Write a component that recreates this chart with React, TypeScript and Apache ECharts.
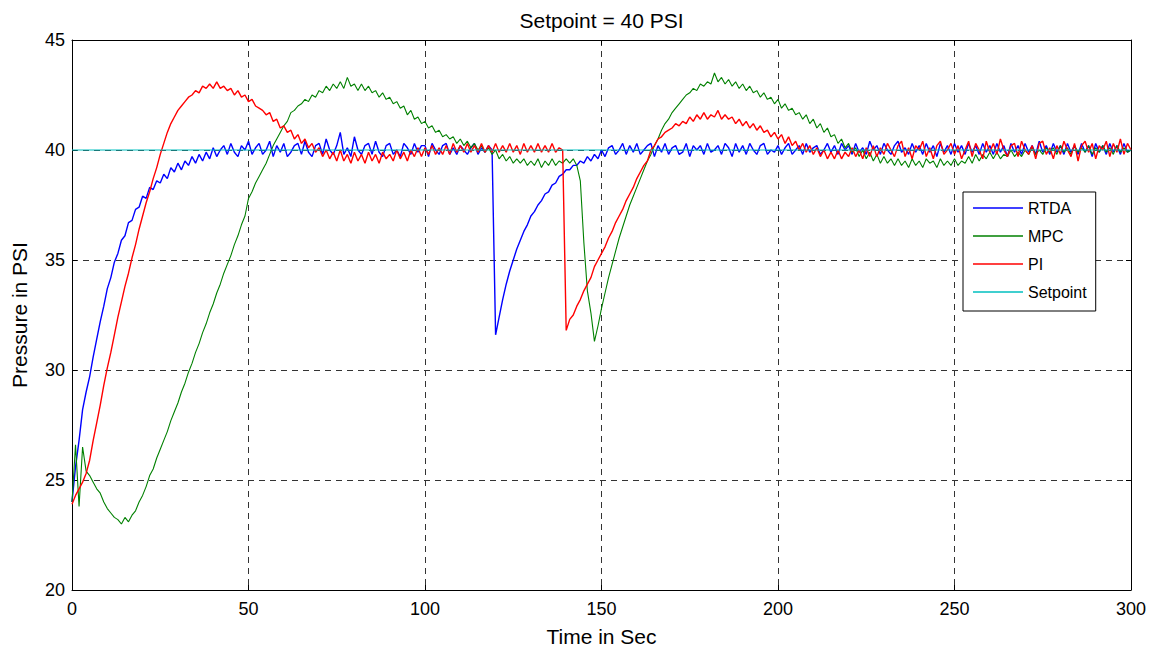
import React, { useEffect, useRef } from "react";
import * as echarts from "echarts";

const TITLE = "Setpoint = 40 PSI";
const X_NAME = "Time in Sec";
const Y_NAME = "Pressure in PSI";
const SERIES_NAMES = ["RTDA", "MPC", "PI", "Setpoint"];
const COLORS = ["#0000FF", "#008000", "#FF0000", "#00BFBF"];
const X_TICKS = [0, 50, 100, 150, 200, 250, 300];
const Y_TICKS = [20, 25, 30, 35, 40, 45];
const TIME_STEP = 1; // seconds between samples

const RTDA = [
  24.0, 25.6, 26.8, 28.2, 29.0, 29.7, 30.6, 31.4, 32.2, 32.9,
  33.7, 34.2, 34.9, 35.3, 35.9, 36.1, 36.7, 36.8, 37.3, 37.4,
  37.9, 37.8, 38.3, 38.2, 38.6, 38.5, 38.9, 38.7, 39.2, 39.0,
  39.4, 39.1, 39.5, 39.3, 39.7, 39.4, 39.8, 39.5, 39.9, 39.6,
  40.1, 39.7, 40.0, 40.2, 39.8, 40.3, 39.9, 39.7, 40.2, 40.0,
  40.4, 39.8, 40.1, 40.3, 39.8, 40.0, 40.4, 39.7, 40.2, 39.9,
  40.3, 39.7, 39.9, 40.2, 40.3, 39.8, 40.4, 39.9, 39.7, 40.2,
  40.3, 39.8, 40.5, 40.0, 39.8, 40.2, 40.8, 39.8, 40.1, 39.7,
  40.6, 40.0, 39.8, 40.2, 40.3, 39.8, 40.4, 39.9, 39.7, 40.2,
  40.3, 39.8, 40.0, 39.7, 40.3, 40.1, 39.8, 40.3, 39.9, 40.2,
  40.2, 39.7, 40.3, 40.0, 39.8, 40.2, 40.3, 39.8, 40.1, 39.8,
  40.2, 40.0, 39.8, 40.1, 40.3, 39.8, 40.1, 39.9, 40.2, 40.0,
  31.6, 32.4, 33.2, 33.9, 34.5, 35.0, 35.5, 35.9, 36.3, 36.6,
  37.0, 37.2, 37.5, 37.7, 38.0, 38.1, 38.4, 38.5, 38.8, 38.9,
  39.1, 39.1, 39.3, 39.3, 39.5, 39.4, 39.7, 39.5, 39.8, 39.6,
  40.0, 39.7, 40.1, 40.2, 39.8, 40.0, 40.3, 39.8, 40.2, 39.9,
  40.3, 39.8, 40.0, 40.2, 40.3, 39.7, 40.2, 39.9, 40.3, 39.8,
  40.1, 40.2, 39.8, 39.9, 40.3, 39.7, 40.2, 40.0, 40.2, 39.8,
  40.3, 39.9, 40.0, 40.2, 39.8, 40.3, 40.1, 39.7, 40.3, 39.9,
  40.2, 39.8, 40.3, 40.0, 39.8, 40.2, 40.3, 39.8, 40.0, 39.9,
  40.2, 39.8, 40.1, 40.3, 39.8, 40.0, 40.2, 39.8, 40.3, 39.9,
  40.1, 40.2, 39.8, 40.0, 40.3, 39.9, 40.2, 39.8, 40.3, 40.0,
  40.2, 39.8, 40.3, 39.9, 40.1, 39.8, 40.4, 40.0, 40.2, 39.8,
  40.3, 40.0, 39.8, 40.2, 40.4, 39.9, 40.1, 39.8, 40.3, 39.9,
  40.2, 39.8, 40.3, 39.9, 40.2, 39.7, 40.3, 39.9, 40.2, 39.8,
  40.3, 39.9, 40.2, 39.8, 40.3, 39.9, 40.2, 39.8, 40.3, 39.9,
  40.2, 39.8, 40.3, 39.9, 40.2, 39.7, 40.3, 39.9, 40.2, 39.8,
  40.3, 39.9, 40.2, 39.8, 40.4, 39.9, 40.2, 39.8, 40.3, 39.9,
  40.2, 39.8, 40.3, 39.9, 40.2, 39.8, 40.3, 39.9, 40.2, 39.7,
  40.3, 39.9, 40.2, 39.8, 40.3, 39.9, 40.2, 39.8, 40.3, 39.9,
  40.0,
];

const MPC = [
  24.0, 26.6, 23.8, 26.5, 25.4, 25.2, 24.9, 24.6, 24.4, 24.0,
  23.7, 23.5, 23.3, 23.2, 23.0, 23.3, 23.1, 23.4, 23.6, 24.0,
  24.3, 24.7, 25.2, 25.5, 26.0, 26.4, 26.8, 27.2, 27.7, 28.1,
  28.5, 29.0, 29.4, 29.9, 30.3, 30.8, 31.2, 31.7, 32.1, 32.6,
  33.0, 33.5, 33.9, 34.4, 34.8, 35.2, 35.7, 36.1, 36.6, 37.0,
  37.8, 38.1, 38.5, 38.8, 39.1, 39.4, 39.8, 40.2, 40.5, 40.8,
  41.1, 41.3, 41.7, 41.8, 42.0, 42.1, 42.3, 42.2, 42.5, 42.4,
  42.7, 42.6, 42.9, 42.7, 43.0, 42.8, 43.1, 42.8, 43.3, 42.9,
  43.0, 42.7, 43.0, 42.7, 42.9, 42.6, 42.7, 42.4, 42.6, 42.3,
  42.4, 42.1, 42.2, 41.9, 42.0, 41.6, 41.8, 41.4, 41.5, 41.2,
  41.3, 41.0, 41.1, 40.8, 40.9, 40.6, 40.7, 40.5, 40.6, 40.3,
  40.5, 40.2, 40.4, 40.1, 40.3, 40.0, 40.2, 39.9, 40.1, 39.8,
  40.0, 39.6, 39.8, 39.5, 39.7, 39.4, 39.6, 39.4, 39.6, 39.3,
  39.5, 39.3, 39.6, 39.2, 39.5, 39.3, 39.6, 39.3, 39.5, 39.4,
  39.6, 39.4, 39.6, 39.3, 38.6, 35.8, 33.6, 32.6, 31.3, 32.0,
  32.8, 33.5, 34.2, 34.8, 35.4, 36.0, 36.5, 37.0, 37.5, 37.9,
  38.3, 38.7, 39.1, 39.5, 39.8, 40.2, 40.5, 40.9, 41.2, 41.4,
  41.7, 41.9, 42.1, 42.3, 42.5, 42.6, 42.8, 42.7, 43.0, 42.9,
  43.1, 43.0, 43.5, 43.1, 43.3, 43.0, 43.2, 42.9, 43.1, 42.8,
  43.0, 42.7, 42.9, 42.6, 42.7, 42.4, 42.6, 42.3, 42.4, 42.1,
  42.3, 41.9, 42.1, 41.8, 41.9, 41.6, 41.7, 41.4, 41.6, 41.2,
  41.4, 41.0, 41.2, 40.8, 41.0, 40.6, 40.7, 40.3, 40.5, 40.1,
  40.3, 39.9, 40.1, 39.7, 40.0, 39.6, 39.9, 39.5, 39.8, 39.4,
  39.7, 39.4, 39.6, 39.3, 39.6, 39.3, 39.5, 39.2, 39.6, 39.3,
  39.5, 39.2, 39.6, 39.4, 39.5, 39.2, 39.6, 39.3, 39.5, 39.3,
  39.6, 39.3, 39.5, 39.4, 39.7, 39.4, 39.8, 39.5, 39.8, 39.6,
  39.9, 39.6, 39.9, 39.6, 39.8, 39.7, 40.0, 39.7, 39.9, 39.7,
  40.0, 39.8, 40.1, 39.8, 40.0, 39.8, 40.1, 39.9, 40.1, 39.8,
  40.2, 39.9, 40.1, 39.8, 40.2, 39.9, 40.1, 39.9, 40.2, 39.8,
  40.1, 39.9, 40.2, 39.9, 40.1, 39.8, 40.2, 39.9, 40.1, 39.9,
  40.0,
];

const PI = [
  23.9, 24.3, 24.6, 24.9, 25.3, 25.9, 26.8, 27.6, 28.4, 29.3,
  30.1, 30.8, 31.6, 32.4, 33.1, 33.8, 34.4, 35.1, 35.7, 36.4,
  37.0, 37.6, 38.1, 38.7, 39.2, 39.8, 40.3, 40.8, 41.2, 41.5,
  41.8, 42.0, 42.2, 42.4, 42.5, 42.7, 42.6, 42.9, 42.8, 43.0,
  42.8, 43.1, 42.8, 42.9, 42.7, 42.8, 42.5, 42.7, 42.4, 42.5,
  42.2, 42.3, 42.0, 41.9, 41.8, 41.6, 41.7, 41.3, 41.4, 41.0,
  41.1, 40.8, 40.9, 40.5, 40.7, 40.3, 40.5, 40.1, 40.3, 39.9,
  40.1, 39.7, 40.0, 39.6, 39.9, 39.5, 40.0, 39.5, 39.8, 39.4,
  39.9, 39.5, 39.8, 39.4, 39.9, 39.5, 39.8, 39.4, 39.9, 39.6,
  39.8, 39.5, 40.0, 39.6, 39.9, 39.5, 40.0, 39.7, 40.1, 39.7,
  40.1, 39.8, 40.2, 39.8, 40.1, 39.8, 40.2, 39.8, 40.3, 39.9,
  40.2, 39.9, 40.3, 39.9, 40.2, 39.9, 40.3, 39.9, 40.2, 39.9,
  40.3, 39.9, 40.2, 39.9, 40.3, 39.9, 40.2, 39.8, 40.3, 39.9,
  40.2, 39.9, 40.3, 39.9, 40.2, 39.9, 40.3, 39.9, 40.1, 40.0,
  31.8, 32.3, 32.5, 32.9, 33.2, 33.6, 33.9, 34.2, 34.7, 35.0,
  35.3, 35.6, 36.0, 36.3, 36.7, 37.0, 37.3, 37.7, 38.0, 38.3,
  38.7, 39.0, 39.3, 39.5, 40.0, 40.2, 40.5, 40.6, 40.8, 40.9,
  41.0, 41.2, 41.1, 41.3, 41.2, 41.5, 41.3, 41.6, 41.4, 41.7,
  41.4, 41.6, 41.5, 41.8, 41.4, 41.6, 41.4, 41.5, 41.2, 41.4,
  41.1, 41.3, 41.0, 41.2, 40.9, 41.1, 40.8, 40.9, 40.6, 40.8,
  40.5, 40.7, 40.3, 40.6, 40.2, 40.4, 40.0, 40.3, 39.9, 40.2,
  39.8, 40.1, 39.7, 40.0, 39.6, 39.9, 39.6, 40.0, 39.6, 39.9,
  39.7, 40.1, 39.7, 40.0, 39.6, 40.1, 39.7, 40.2, 39.7, 40.1,
  39.8, 40.3, 40.0, 39.7, 40.2, 40.4, 39.7, 40.1, 39.6, 40.2,
  40.0, 40.4, 39.7, 40.1, 39.6, 40.2, 40.4, 39.8, 40.0, 40.3,
  39.8, 40.2, 39.6, 40.0, 40.4, 39.7, 40.3, 40.0, 39.6, 40.4,
  39.9, 40.3, 39.8, 40.5, 40.0, 39.7, 40.2, 40.3, 39.7, 40.4,
  40.0, 39.8, 40.2, 39.6, 40.3, 40.4, 39.8, 40.1, 39.6, 40.2,
  39.8, 40.4, 40.0, 39.7, 40.3, 39.5, 40.2, 40.4, 39.9, 40.3,
  39.6, 40.2, 40.0, 40.4, 39.7, 40.3, 39.9, 40.5, 39.8, 40.3,
  40.0,
];

const SETPOINT_T = [0, 300];
const SETPOINT_V = [40, 40];

const FONT = "'Liberation Sans', Arial, Helvetica, sans-serif";

function toPairs(values: number[]) {
  return values.map((v, i) => [i * TIME_STEP, v]);
}

export default function App() {
  const ref = useRef<HTMLDivElement>(null);

  useEffect(() => {
    if (!ref.current) return;
    const chart = echarts.init(ref.current, undefined, { renderer: "svg" });

    const xMin = X_TICKS[0];
    const xMax = X_TICKS[X_TICKS.length - 1];
    const xInt = X_TICKS[1] - X_TICKS[0];
    const yMin = Y_TICKS[0];
    const yMax = Y_TICKS[Y_TICKS.length - 1];
    const yInt = Y_TICKS[1] - Y_TICKS[0];

    const axisLine = { show: true, onZero: false, lineStyle: { color: "#000", width: 1 } };
    const axisTick = { show: true, inside: true, length: 5, lineStyle: { color: "#000", width: 1 } };
    const splitLine = { show: true, lineStyle: { color: "#333", width: 1, type: [6, 5] } };
    const widths = [1.4, 1.1, 1.4];

    const series: any[] = [RTDA, MPC, PI].map((vals, k) => ({
      name: SERIES_NAMES[k],
      type: "line",
      data: toPairs(vals),
      showSymbol: false,
      symbol: "none",
      lineStyle: { color: COLORS[k], width: widths[k] },
      itemStyle: { color: COLORS[k] },
      z: 2 + k,
    }));
    series.push({
      name: SERIES_NAMES[3],
      type: "line",
      data: SETPOINT_T.map((t, i) => [t, SETPOINT_V[i]]),
      showSymbol: false,
      symbol: "none",
      lineStyle: { color: COLORS[3], width: 1 },
      itemStyle: { color: COLORS[3] },
      z: 6,
    });

    chart.setOption({
      animation: false,
      backgroundColor: "#fff",
      textStyle: { fontFamily: FONT },
      grid: {
        left: 72,
        right: 22,
        top: 40,
        bottom: 58,
        containLabel: false,
        outerBoundsMode: "none",
      },
      graphic: [
        {
          type: "text",
          x: 601.5,
          y: 20,
          style: {
            text: TITLE,
            fontSize: 21,
            fontFamily: FONT,
            fill: "#000",
            align: "center",
            verticalAlign: "middle",
          },
        },
      ],
      legend: {
        data: SERIES_NAMES,
        orient: "vertical",
        left: 963,
        top: 192,
        padding: [8, 9, 11, 10],
        itemGap: 12,
        itemWidth: 50,
        itemHeight: 1.5,
        icon: "rect",
        backgroundColor: "#fff",
        borderColor: "#000",
        borderWidth: 1,
        borderRadius: 0,
        textStyle: { fontSize: 16, lineHeight: 16, color: "#000", fontFamily: FONT },
      },
      xAxis: [
        {
          type: "value",
          position: "bottom",
          min: xMin,
          max: xMax,
          interval: xInt,
          axisLine,
          axisTick,
          splitLine,
          axisLabel: { color: "#000", fontSize: 18, margin: 10, fontFamily: FONT },
          name: X_NAME,
          nameLocation: "middle",
          nameGap: 36,
          nameTextStyle: { color: "#000", fontSize: 21, fontFamily: FONT },
        },
        {
          type: "value",
          position: "top",
          min: xMin,
          max: xMax,
          interval: xInt,
          axisLine,
          axisTick,
          splitLine: { show: false },
          axisLabel: { show: false },
        },
      ],
      yAxis: [
        {
          type: "value",
          position: "left",
          min: yMin,
          max: yMax,
          interval: yInt,
          axisLine,
          axisTick,
          splitLine,
          axisLabel: { color: "#000", fontSize: 18, margin: 7, fontFamily: FONT },
          name: Y_NAME,
          nameLocation: "middle",
          nameGap: 42,
          nameTextStyle: { color: "#000", fontSize: 21, fontFamily: FONT },
        },
        {
          type: "value",
          position: "right",
          min: yMin,
          max: yMax,
          interval: yInt,
          axisLine,
          axisTick,
          splitLine: { show: false },
          axisLabel: { show: false },
        },
      ],
      series,
    });

    return () => chart.dispose();
  }, []);

  return (
    <div
      ref={ref}
      style={{ position: "absolute", left: 0, top: 0, width: 1153, height: 648, background: "#fff" }}
    />
  );
}
